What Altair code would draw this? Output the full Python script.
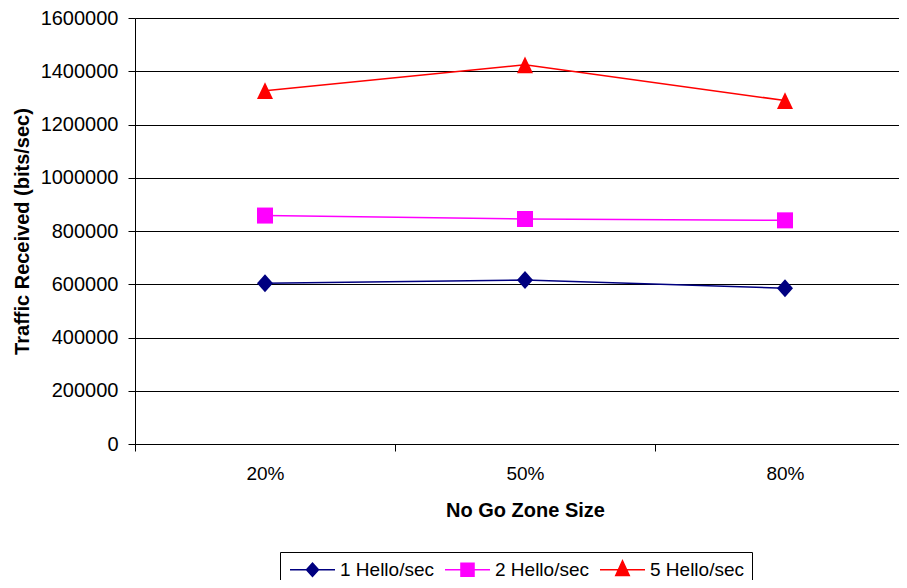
import altair as alt
import pandas as pd

zones = ["20%", "50%", "80%"]
series_names = ["1 Hello/sec", "2 Hello/sec", "5 Hello/sec"]
hello1 = [604000, 616000, 585000]
hello2 = [858000, 845000, 840000]
hello5 = [1327000, 1424000, 1290000]
colors = ["#000080", "#FF00FF", "#FF0000"]
y_ticks = [0, 200000, 400000, 600000, 800000, 1000000, 1200000, 1400000, 1600000]

# marker shapes (custom svg paths): plot markers and legend symbols (line + marker)
plot_shapes = [
    "M-0.89,0L0,-1L0.89,0L0,1Z",
    "M-0.89,-0.89L0.89,-0.89L0.89,0.89L-0.89,0.89Z",
    "M0,-0.93L0.89,0.93L-0.89,0.93Z",
]
legend_shapes = [
    "M-1,0L5,0M1.2,0L2,-0.89L2.8,0L2,0.89Z",
    "M-1,0L5,0M1.13,-0.87L2.87,-0.87L2.87,0.87L1.13,0.87Z",
    "M-1,0L5,0M2,-1.2L2.9,0.76L1.1,0.76Z",
]

rows = []
for name, vals in zip(series_names, [hello1, hello2, hello5]):
    for z, v in zip(zones, vals):
        rows.append({"zone": z, "series": name, "traffic": v})
df = pd.DataFrame(rows)

FONT = "Liberation Sans"

x_enc = alt.X(
    "zone:N",
    sort=zones,
    scale=alt.Scale(type="band", domain=zones, paddingInner=0, paddingOuter=0),
    axis=alt.Axis(
        title="No Go Zone Size",
        labelAngle=0,
        tickBand="extent",
        grid=False,
        domainColor="black",
        tickColor="black",
        tickSize=7,
        labelPadding=13,
        labelFont=FONT,
        labelFontSize=19,
        labelColor="black",
        titleFont=FONT,
        titleFontSize=20,
        titleFontWeight="bold",
        titleColor="black",
        titlePadding=17,
    ),
)
y_enc = alt.Y(
    "traffic:Q",
    scale=alt.Scale(domain=[0, 1600000], nice=False, zero=True),
    axis=alt.Axis(
        title="Traffic Received (bits/sec)",
        values=y_ticks,
        format="d",
        grid=True,
        gridColor="black",
        gridWidth=1,
        domainColor="black",
        tickColor="black",
        tickSize=7,
        labelPadding=10,
        labelFont=FONT,
        labelFontSize=20,
        labelColor="black",
        titleFont=FONT,
        titleFontSize=20,
        titleFontWeight="bold",
        titleColor="black",
        titlePadding=8,
    ),
)

color_scale = alt.Scale(domain=series_names, range=colors)

base = alt.Chart(df)

lines = base.mark_line(strokeWidth=1.5).encode(
    x=x_enc, y=y_enc, color=alt.Color("series:N", scale=color_scale, legend=None)
)
points = base.mark_point(filled=True, size=324, opacity=1).encode(
    x=x_enc,
    y=y_enc,
    color=alt.Color("series:N", scale=color_scale, legend=None),
    shape=alt.Shape("series:N", scale=alt.Scale(domain=series_names, range=plot_shapes), legend=None),
)

leg = alt.Legend(
    title=None,
    orient="none",
    legendX=145,
    legendY=534,
    direction="horizontal",
    strokeColor="black",
    fillColor="white",
    padding=8,
    labelFont=FONT,
    labelFontSize=19,
    labelColor="black",
    labelLimit=300,
    labelOffset=33,
    symbolSize=225,
    symbolStrokeWidth=1.5,
    symbolOpacity=1,
    columnPadding=8,
)
legend_layer = base.mark_point(filled=True, opacity=1).encode(
    x=x_enc,
    y=y_enc,
    fill=alt.Fill("series:N", scale=alt.Scale(domain=series_names, range=colors), legend=leg),
    stroke=alt.Stroke("series:N", scale=alt.Scale(domain=series_names, range=colors), legend=leg),
    shape=alt.Shape("series:N", scale=alt.Scale(domain=series_names, range=legend_shapes), legend=leg),
).transform_filter("false")

chart = (
    alt.layer(lines, points, legend_layer)
    .resolve_scale(shape="independent", fill="independent", stroke="independent")
    .properties(
        width=780,
        height=426,
        autosize=alt.AutoSizeParams(type="none"),
        padding={"left": 127, "top": 10, "right": -16, "bottom": 136},
    )
    .configure_view(stroke=None)
    .configure(background="white")
)

chart.save("out.html", embed_options={"renderer": "svg", "actions": False})
